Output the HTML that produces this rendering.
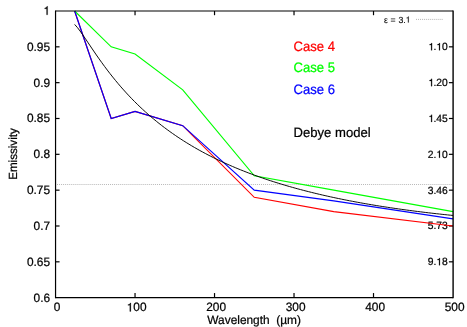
<!DOCTYPE html>
<html><head><meta charset="utf-8"><title>Emissivity</title>
<style>html,body{margin:0;padding:0;background:#fff;}svg{display:block;will-change:transform;}body{font-family:"Liberation Sans",sans-serif;}</style></head>
<body>
<svg width="467" height="327" viewBox="0 0 467 327">
<rect width="467" height="327" fill="#fff"/>
<g stroke="#000" stroke-width="1.2">
<line x1="55.55" y1="46.83" x2="59.55" y2="46.83"/>
<line x1="448.9" y1="46.83" x2="453.0" y2="46.83"/>
<line x1="55.55" y1="82.66" x2="59.55" y2="82.66"/>
<line x1="448.9" y1="82.66" x2="453.0" y2="82.66"/>
<line x1="55.55" y1="118.49" x2="59.55" y2="118.49"/>
<line x1="448.9" y1="118.49" x2="453.0" y2="118.49"/>
<line x1="55.55" y1="154.32" x2="59.55" y2="154.32"/>
<line x1="448.9" y1="154.32" x2="453.0" y2="154.32"/>
<line x1="55.55" y1="190.16" x2="59.55" y2="190.16"/>
<line x1="448.9" y1="190.16" x2="453.0" y2="190.16"/>
<line x1="55.55" y1="225.99" x2="59.55" y2="225.99"/>
<line x1="448.9" y1="225.99" x2="453.0" y2="225.99"/>
<line x1="55.55" y1="261.82" x2="59.55" y2="261.82"/>
<line x1="448.9" y1="261.82" x2="453.0" y2="261.82"/>
<line x1="135.04" y1="297.65" x2="135.04" y2="293.04999999999995"/>
<line x1="135.04" y1="11.0" x2="135.04" y2="15.2"/>
<line x1="214.53" y1="297.65" x2="214.53" y2="293.04999999999995"/>
<line x1="214.53" y1="11.0" x2="214.53" y2="15.2"/>
<line x1="294.02" y1="297.65" x2="294.02" y2="293.04999999999995"/>
<line x1="294.02" y1="11.0" x2="294.02" y2="15.2"/>
<line x1="373.51" y1="297.65" x2="373.51" y2="293.04999999999995"/>
<line x1="373.51" y1="11.0" x2="373.51" y2="15.2"/>
</g>
<g font-family="Liberation Sans, sans-serif" fill="#000" stroke="#000" stroke-width="0.22" text-rendering="geometricPrecision">
<path d="M47.61 14.85 L46.56 14.85 L46.56 8.81 L44.70 8.81 L44.70 8.06 C45.74 8.01 46.67 7.56 46.93 6.37 L47.61 6.37 Z" fill="#000" stroke="#000" stroke-width="0.22" stroke-linejoin="miter"/>
<text transform="translate(0,50.68) scale(1,1.02)" x="26.94 33.56 36.86 43.48" font-size="11.9" stroke-width="0.22">0.95</text>
<text transform="translate(0,86.51) scale(1,1.02)" x="33.56 40.18 43.48" font-size="11.9" stroke-width="0.22">0.9</text>
<text transform="translate(0,122.34) scale(1,1.02)" x="26.94 33.56 36.86 43.48" font-size="11.9" stroke-width="0.22">0.85</text>
<text transform="translate(0,158.17) scale(1,1.02)" x="33.56 40.18 43.48" font-size="11.9" stroke-width="0.22">0.8</text>
<text transform="translate(0,194.01) scale(1,1.02)" x="26.94 33.56 36.86 43.48" font-size="11.9" stroke-width="0.22">0.75</text>
<text transform="translate(0,229.84) scale(1,1.02)" x="33.56 40.18 43.48" font-size="11.9" stroke-width="0.22">0.7</text>
<text transform="translate(0,265.67) scale(1,1.02)" x="26.94 33.56 36.86 43.48" font-size="11.9" stroke-width="0.22">0.65</text>
<text transform="translate(0,301.50) scale(1,1.02)" x="33.56 40.18 43.48" font-size="11.9" stroke-width="0.22">0.6</text>
<path d="M432.05 50.33 L431.14 50.33 L431.14 45.11 L429.52 45.11 L429.52 44.45 C430.43 44.41 431.23 44.02 431.46 42.99 L432.05 42.99 Z" fill="#000" stroke="#000" stroke-width="0.22" stroke-linejoin="miter"/><path d="M439.92 50.33 L439.01 50.33 L439.01 45.11 L437.39 45.11 L437.39 44.45 C438.30 44.41 439.10 44.02 439.33 42.99 L439.92 42.99 Z" fill="#000" stroke="#000" stroke-width="0.22" stroke-linejoin="miter"/><text transform="translate(0,50.33) scale(1,1.02)" x="433.48 442.07" font-size="10.3" stroke-width="0.22">.0</text>
<path d="M432.05 86.16 L431.14 86.16 L431.14 80.94 L429.52 80.94 L429.52 80.28 C430.43 80.24 431.23 79.85 431.46 78.83 L432.05 78.83 Z" fill="#000" stroke="#000" stroke-width="0.22" stroke-linejoin="miter"/><text transform="translate(0,86.16) scale(1,1.02)" x="433.48 436.34 442.07" font-size="10.3" stroke-width="0.22">.20</text>
<path d="M432.05 121.99 L431.14 121.99 L431.14 116.77 L429.52 116.77 L429.52 116.12 C430.43 116.07 431.23 115.68 431.46 114.66 L432.05 114.66 Z" fill="#000" stroke="#000" stroke-width="0.22" stroke-linejoin="miter"/><text transform="translate(0,121.99) scale(1,1.02)" x="433.48 436.34 442.07" font-size="10.3" stroke-width="0.22">.45</text>
<path d="M439.92 157.82 L439.01 157.82 L439.01 152.60 L437.39 152.60 L437.39 151.95 C438.30 151.91 439.10 151.51 439.33 150.49 L439.92 150.49 Z" fill="#000" stroke="#000" stroke-width="0.22" stroke-linejoin="miter"/><text transform="translate(0,157.82) scale(1,1.02)" x="427.75 433.48 442.07" font-size="10.3" stroke-width="0.22">2.0</text>
<text transform="translate(0,193.66) scale(1,1.02)" x="427.75 433.48 436.34 442.07" font-size="10.3" stroke-width="0.22">3.46</text>
<text transform="translate(0,229.49) scale(1,1.02)" x="427.75 433.48 436.34 442.07" font-size="10.3" stroke-width="0.22">5.73</text>
<path d="M439.92 265.32 L439.01 265.32 L439.01 260.09 L437.39 260.09 L437.39 259.44 C438.30 259.40 439.10 259.01 439.33 257.98 L439.92 257.98 Z" fill="#000" stroke="#000" stroke-width="0.22" stroke-linejoin="miter"/><text transform="translate(0,265.32) scale(1,1.02)" x="427.75 433.48 442.07" font-size="10.3" stroke-width="0.22">9.8</text>
<text transform="translate(0,311.40) scale(1,1.02)" x="53.84" font-size="11.9" stroke-width="0.22">0</text>
<path d="M130.84 311.40 L129.79 311.40 L129.79 305.36 L127.93 305.36 L127.93 304.61 C128.97 304.56 129.90 304.11 130.16 302.92 L130.84 302.92 Z" fill="#000" stroke="#000" stroke-width="0.22" stroke-linejoin="miter"/><text transform="translate(0,311.40) scale(1,1.02)" x="133.33 139.95" font-size="11.9" stroke-width="0.22">00</text>
<text transform="translate(0,311.40) scale(1,1.02)" x="206.20 212.82 219.44" font-size="11.9" stroke-width="0.22">200</text>
<text transform="translate(0,311.40) scale(1,1.02)" x="285.69 292.31 298.93" font-size="11.9" stroke-width="0.22">300</text>
<text transform="translate(0,311.40) scale(1,1.02)" x="365.18 371.80 378.42" font-size="11.9" stroke-width="0.22">400</text>
<text transform="translate(0,311.40) scale(1,1.02)" x="444.67 451.29 457.91" font-size="11.9" stroke-width="0.22">500</text>
<text transform="translate(254.10,324.30) scale(1,1.02)" font-size="11.9" text-anchor="middle" xml:space="preserve">Wavelength  (µm)</text>
<text transform="translate(16.70,154.00) rotate(-90) scale(1,1.02)" font-size="11.6" text-anchor="middle">Emissivity</text>
<text transform="translate(293.50,51.20) scale(1,1.045)" font-size="13.1" fill="#ff0000" stroke="#ff0000">Case 4</text>
<text transform="translate(293.50,72.30) scale(1,1.045)" font-size="13.1" fill="#00ff00" stroke="#00ff00">Case 5</text>
<text transform="translate(293.50,94.00) scale(1,1.045)" font-size="13.1" fill="#0000ff" stroke="#0000ff">Case 6</text>
<text transform="translate(293.50,137.20) scale(1,1.03)" font-size="13.1">Debye model</text>
<text transform="translate(384.00,22.60) scale(1,1.02)" font-size="8.7" fill="#000" stroke="#000" stroke-width="0.1">ε</text>
<text transform="translate(390.50,22.60) scale(1,1.02)" font-size="8.7" fill="#000" stroke="#000" stroke-width="0.1">=</text>
<path d="M408.67 22.60 L407.91 22.60 L407.91 18.19 L406.54 18.19 L406.54 17.64 C407.31 17.60 407.99 17.27 408.18 16.40 L408.67 16.40 Z" fill="#000" stroke="#000" stroke-width="0.1" stroke-linejoin="miter"/><text transform="translate(0,22.60) scale(1,1.02)" x="398.40 403.24" font-size="8.7" stroke-width="0.1">3.</text>
</g>
<line x1="57" y1="184.5" x2="452.0" y2="184.5" stroke="#b8b8b8" stroke-width="1" stroke-dasharray="1 1.04"/>
<line x1="416" y1="19.4" x2="443" y2="19.4" stroke="#aaa" stroke-width="0.9" stroke-dasharray="1 1.03"/>
<polyline points="74.63,11.00 111.19,118.49 135.04,111.33 182.73,125.66 254.27,197.32 333.76,211.66 453.00,225.99" fill="none" stroke="#ff0000" stroke-width="1.15" stroke-linejoin="miter"/>
<polyline points="74.63,11.00 111.19,46.83 135.04,54.00 182.73,89.83 254.27,175.82 333.76,190.16 453.00,211.66" fill="none" stroke="#00ff00" stroke-width="1.15" stroke-linejoin="miter"/>
<polyline points="74.63,11.00 111.19,118.49 135.04,111.33 182.73,125.66 254.27,190.16 333.76,200.91 453.00,218.82" fill="none" stroke="#0000ff" stroke-width="1.15" stroke-linejoin="miter"/>
<polyline points="74.63,24.43 77.35,27.47 80.07,31.03 82.79,34.89 85.52,38.89 88.24,42.95 90.96,47.01 93.68,51.03 96.40,55.00 99.13,58.90 101.85,62.71 104.57,66.44 107.29,70.07 110.01,73.61 112.74,77.06 115.46,80.42 118.18,83.68 120.90,86.86 123.63,89.95 126.35,92.96 129.07,95.88 131.79,98.73 134.51,101.50 137.24,104.20 139.96,106.83 142.68,109.39 145.40,111.87 148.12,114.30 150.85,116.66 153.57,118.96 156.29,121.20 159.01,123.39 161.73,125.52 164.46,127.59 167.18,129.62 169.90,131.60 172.62,133.53 175.35,135.41 178.07,137.25 180.79,139.04 183.51,140.79 186.23,142.51 188.96,144.18 191.68,145.81 194.40,147.41 197.12,148.97 199.84,150.50 202.57,151.99 205.29,153.45 208.01,154.88 210.73,156.28 213.45,157.65 216.18,158.99 218.90,160.30 221.62,161.58 224.34,162.84 227.07,164.07 229.79,165.28 232.51,166.46 235.23,167.62 237.95,168.75 240.68,169.86 243.40,170.95 246.12,172.02 248.84,173.07 251.56,174.09 254.29,175.10 257.01,176.09 259.73,177.05 262.45,178.00 265.17,178.94 267.90,179.85 270.62,180.75 273.34,181.63 276.06,182.49 278.79,183.34 281.51,184.17 284.23,184.99 286.95,185.79 289.67,186.58 292.40,187.35 295.12,188.11 297.84,188.86 300.56,189.59 303.28,190.31 306.01,191.01 308.73,191.71 311.45,192.39 314.17,193.06 316.89,193.71 319.62,194.36 322.34,194.99 325.06,195.62 327.78,196.23 330.51,196.83 333.23,197.42 335.95,198.00 338.67,198.57 341.39,199.13 344.12,199.69 346.84,200.23 349.56,200.76 352.28,201.28 355.00,201.80 357.73,202.30 360.45,202.80 363.17,203.29 365.89,203.77 368.61,204.24 371.34,204.70 374.06,205.16 376.78,205.61 379.50,206.05 382.23,206.48 384.95,206.90 387.67,207.32 390.39,207.73 393.11,208.14 395.84,208.53 398.56,208.92 401.28,209.31 404.00,209.69 406.72,210.06 409.45,210.42 412.17,210.78 414.89,211.13 417.61,211.47 420.33,211.81 423.06,212.15 425.78,212.48 428.50,212.80 431.22,213.11 433.95,213.43 436.67,213.73 439.39,214.03 442.11,214.33 444.83,214.62 447.56,214.90 450.28,215.18 453.00,215.45" fill="none" stroke="#000" stroke-width="0.95"/>
<g stroke="#000" stroke-width="1.2" fill="none">
<line x1="55.55" y1="10.5" x2="55.55" y2="298.25"/>
<line x1="453.1" y1="10.5" x2="453.1" y2="298.25" stroke-width="1.4"/>
<line x1="55.55" y1="297.65" x2="453.0" y2="297.65"/>
</g>
<line x1="55.55" y1="11.0" x2="453.0" y2="11.0" stroke="#000" stroke-width="1.2"/>
</svg>
</body></html>
